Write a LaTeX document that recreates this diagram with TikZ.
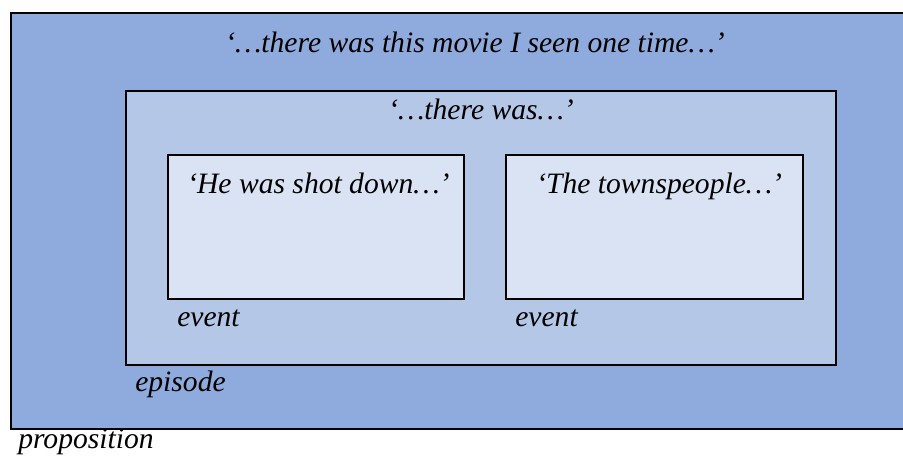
\documentclass[tikz,border=0pt]{standalone}
\usepackage{fontspec}
\setmainfont{Liberation Serif}
\definecolor{propfill}{HTML}{8FAADC}
\definecolor{episfill}{HTML}{B4C7E7}
\definecolor{eventfill}{HTML}{DAE3F3}
\begin{document}
\begin{tikzpicture}[x=0.75pt,y=-0.75pt,
  frame/.style={draw=black,line width=2.2pt},
  lbl/.style={anchor=base west,inner sep=0pt,font=\fontsize{22.2}{26}\selectfont\itshape}]
\useasboundingbox (0,0) rectangle (903,459);
\clip (0,0) rectangle (903,459);
\path[frame,fill=propfill] (11,13) rectangle (910,429);
\coordinate (prop) at (11,13);
\path[frame,fill=episfill] (126,91) rectangle (836,365);
\coordinate (epis) at (126,91);
\path[frame,fill=eventfill] (168,155) rectangle (464,299);
\path[frame,fill=eventfill] (506,155) rectangle (803,299);
\node[lbl] (t1) at (225,53) {‘…there was this movie I seen one time…’};
\node[lbl] (t2) at (388,120) {‘…there was…’};
\node[lbl] (t3) at (187,194) {‘He was shot down…’};
\node[lbl] (t4) at (536,194) {‘The townspeople…’};
\node[lbl] (e1) at (177,327) {event};
\node[lbl] (e2) at (515,327) {event};
\node[lbl] (ep) at (135,392) {episode};
\node[lbl] (pr) at (18,448) {proposition};
\end{tikzpicture}
\end{document}
